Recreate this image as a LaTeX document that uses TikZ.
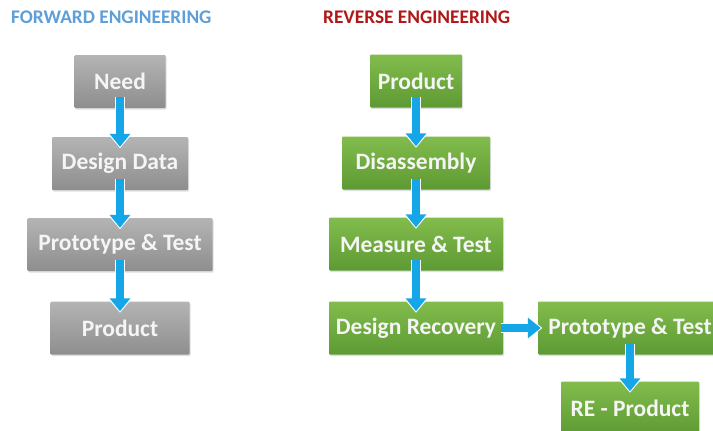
\documentclass[tikz,border=0pt]{standalone}
\usepackage{fontspec}
\setmainfont{Carlito}
\usetikzlibrary{arrows.meta,shadows}
\usepackage{xcolor}
\definecolor{fwdblue}{HTML}{5F9FD8}
\definecolor{revred}{HTML}{B01818}
\definecolor{graytop}{HTML}{B4B4B4}
\definecolor{graybot}{HTML}{8E8E8E}
\definecolor{greentop}{HTML}{82BC4C}
\definecolor{greenbot}{HTML}{5E9A34}
\definecolor{flowblue}{HTML}{14A6E6}

\begin{document}
\begin{tikzpicture}[x=1pt,y=-1pt,
	title/.style={anchor=west,inner sep=0pt,font=\bfseries\fontsize{19.3}{22}\selectfont},
	box/.style={minimum height=53pt,inner sep=0pt,rounded corners=1pt,text=white!96!black,
		font=\bfseries\fontsize{23.5}{27}\selectfont,
		drop shadow={shadow xshift=1pt,shadow yshift=-1.5pt,opacity=.25}},
	graybox/.style={box,top color=graytop,bottom color=graybot},
	greenbox/.style={box,top color=greentop,bottom color=greenbot},
	flow/.style={draw=flowblue,line width=8pt,-{Triangle[length=13pt,width=20pt]},
		preaction={draw=white,line width=10pt,-{Triangle[length=15pt,width=24pt]},shorten >=-1.5pt}}]
	\useasboundingbox (0,0) rectangle (713,431);
	\clip (0,0) rectangle (713,431);
	\fill[white] (0,0) rectangle (713,431);
	% titles
	\node[title,text=fwdblue] (fwd) at (11,17) {FORWARD ENGINEERING};
	\node[title,text=revred] (rev) at (323,17) {REVERSE ENGINEERING};
	% forward column
	\foreach \n/\y/\w/\t in {
			need/81.5/91/Need,
			data/163.5/136/Design Data,
			proto/244.5/185/Prototype \& Test,
			prod/328/139/Product
			} {
		\node[graybox,minimum width=\w pt] (\n) at (120,\y) {\t};
	};
	% reverse column
	\foreach \n/\x/\y/\w/\t in {
			rprod/416/81/92/Product,
			disasm/416/163/148/Disassembly,
			meas/416/244/174/Measure \& Test,
			recov/416/328/174/Design Recovery,
			rproto/630/328/184/Prototype \& Test,
			reprod/630/408/138/RE - Product
			} {
		\node[greenbox,minimum width=\w pt] (\n) at (\x,\y) {\t};
	};
	% arrows
	\foreach \a/\b in {need/data,data/proto,proto/prod,rprod/disasm,disasm/meas,meas/recov,rproto/reprod} {
		\draw[flow] ([yshift=11pt]\a.south) -- ([yshift=-10pt]\b.north);
	};
	\draw[flow] ([xshift=-2pt]recov.east) -- ([xshift=3pt]rproto.west);
\end{tikzpicture}
\end{document}
